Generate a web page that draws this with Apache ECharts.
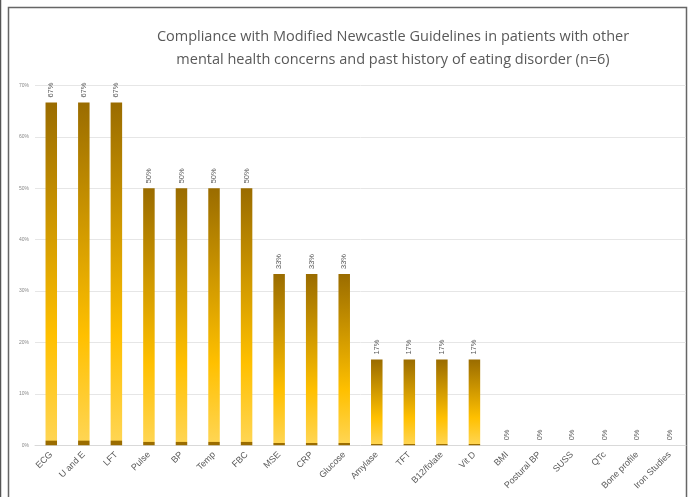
<!DOCTYPE html>
<html>
<head>
<meta charset="utf-8">
<script src="https://cdn.jsdelivr.net/npm/echarts@6/dist/echarts.min.js"></script>
<style>
html,body{margin:0;padding:0;background:#fff;}
#chart{width:688px;height:497px;}
</style>
</head>
<body>
<div id="chart"></div>
<script>
const titleText = "Compliance with Modified Newcastle Guidelines in patients with other\nmental health concerns and past history of eating disorder (n=6)";
const categories = ["ECG","U and E","LFT","Pulse","BP","Temp","FBC","MSE","CRP","Glucose","Amylase","TFT","B12/folate","Vit D","BMI","Postural BP","SUSS","QTc","Bone profile","Iron Studies"];
const compliance = [66.67,66.67,66.67,50,50,50,50,33.33,33.33,33.33,16.67,16.67,16.67,16.67,0,0,0,0,0,0];
const yTicks = [0,10,20,30,40,50,60,70];

const chart = echarts.init(document.getElementById('chart'));
const grad = new echarts.graphic.LinearGradient(0,0,0,1,[
  {offset:0, color:'#9A6C00'},
  {offset:0.68, color:'#FFC000'},
  {offset:0.985, color:'#FFD552'},
  {offset:0.988, color:'#9A6C00'},
  {offset:1, color:'#9A6C00'}
]);
chart.setOption({
  animation:false,
  backgroundColor:'#fff',
  title:{
    text:titleText,
    left:388, top:20, textAlign:'center',
    textStyle:{fontFamily:'Open Sans', fontSize:14.5, fontWeight:'normal', color:'#595959', lineHeight:23}
  },
  graphic:[
    {type:'line', shape:{x1:0.5,y1:0,x2:0.5,y2:497}, style:{stroke:'#555',lineWidth:1.5}},
    {type:'rect', shape:{x:8.5,y:7.5,width:678,height:500}, style:{fill:'none',stroke:'#666',lineWidth:1.5}}
  ],
  grid:{left:35, right:2, top:85.5, bottom:51.7},
  xAxis:{
    type:'category', data:categories,
    axisLine:{lineStyle:{color:'#D9D9D9'}},
    axisTick:{show:false},
    axisLabel:{interval:0, rotate:45, fontFamily:'Liberation Sans', fontSize:9, color:'#595959', margin:8}
  },
  yAxis:{
    type:'value', min:0, max:70, interval:10,
    axisLine:{show:false}, axisTick:{show:false},
    splitLine:{lineStyle:{color:'#E6E6E6'}},
    axisLabel:{fontFamily:'Liberation Sans', fontSize:5, color:'#888', margin:6,
      formatter:function(v){return yTicks.indexOf(v)>=0 ? v+'%' : '';}}
  },
  series:[{
    type:'bar', data:compliance, barWidth:11.5,
    itemStyle:{color:grad},
    label:{show:true, position:'top', rotate:90, align:'left', verticalAlign:'middle', distance:5,
      fontFamily:'Liberation Sans', fontSize:7.5, color:'#595959',
      formatter:function(p){return Math.round(p.value)+'%';}}
  }]
});
</script>
</body>
</html>
